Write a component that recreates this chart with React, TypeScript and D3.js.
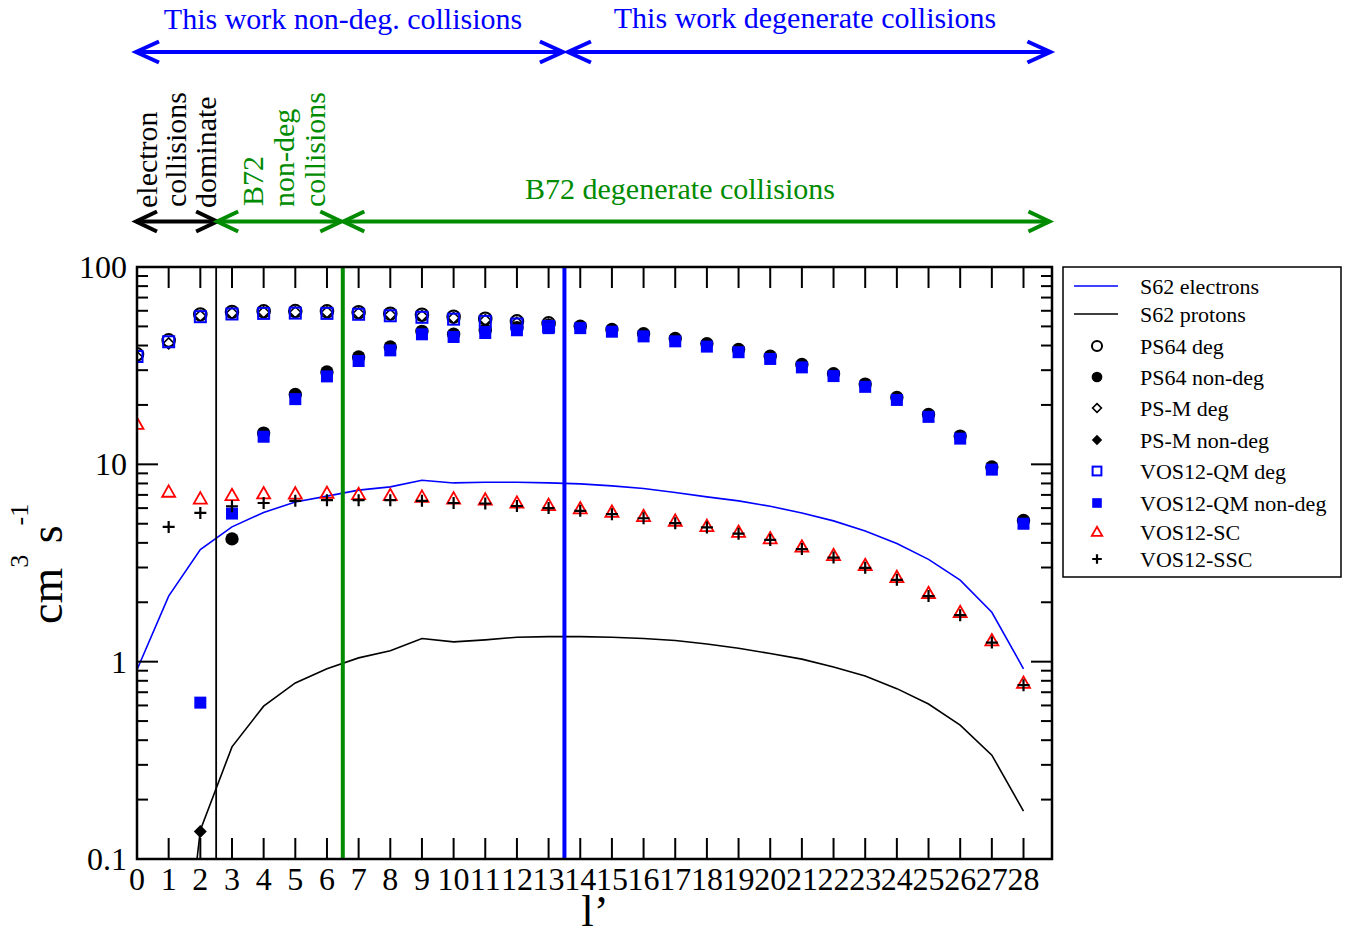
import React from 'react'
import * as d3 from 'd3'

// angular momentum index l'
const lAll = d3.range(0, 29)
const lDeg = d3.range(0, 14)
const lNonDegPS = d3.range(3, 29)
const lNonDegVOS = d3.range(2, 29)
const lSSC = d3.range(1, 29)
const lPSMNonDeg = [2]

// rate coefficients, cm^3 s^-1
const s62Electrons = [0.91, 2.15, 3.7, 4.82, 5.7, 6.45, 6.9, 7.4, 7.69, 8.3, 8.05, 8.12, 8.12, 8.05, 7.96, 7.78, 7.54, 7.2, 6.84, 6.53, 6.13, 5.67, 5.17, 4.6, 3.97, 3.3, 2.59, 1.78, 0.92]
const s62Protons = [0.0008, 0.0055, 0.14, 0.37, 0.595, 0.78, 0.92, 1.045, 1.135, 1.31, 1.26, 1.29, 1.33, 1.34, 1.34, 1.33, 1.31, 1.28, 1.23, 1.17, 1.1, 1.03, 0.94, 0.845, 0.73, 0.61, 0.477, 0.336, 0.175]
const ps64Deg = [36.1, 42.5, 57.5, 59.2, 59.6, 59.8, 59.6, 59.0, 58.0, 57.3, 56.0, 54.7, 53.0, 51.8]
const ps64NonDeg = [4.19, 14.4, 22.6, 29.4, 35.0, 39.3, 47.2, 45.6, 47.8, 49.3, 50.7, 50.1, 48.2, 45.9, 43.4, 40.9, 38.2, 35.3, 32.1, 28.8, 25.5, 21.8, 17.9, 13.9, 9.7, 5.2]
const psmDeg = [35.0, 41.0, 56.5, 58.5, 59.0, 59.0, 59.0, 58.3, 57.3, 56.5, 55.2, 53.8, 52.2, 51.0]
const psmNonDeg = [0.138]
const vosQmDeg = [35.2, 41.8, 56.0, 57.8, 58.2, 58.4, 58.2, 57.6, 56.6, 55.6, 54.4, 53.0, 51.4, 50.0]
const vosQmNonDeg = [0.62, 5.63, 13.8, 21.4, 27.9, 33.4, 37.8, 45.6, 44.2, 46.3, 47.8, 49.0, 49.0, 47.0, 44.5, 42.0, 39.5, 37.0, 34.2, 31.0, 28.0, 24.7, 21.2, 17.4, 13.5, 9.4, 5.0]
const vosSC = [16.0, 7.25, 6.7, 6.97, 7.11, 7.1, 7.15, 7.05, 6.97, 6.84, 6.7, 6.62, 6.38, 6.21, 5.97, 5.74, 5.46, 5.17, 4.86, 4.54, 4.21, 3.82, 3.46, 3.08, 2.68, 2.22, 1.78, 1.28, 0.78]
const vosSSC = [4.82, 5.67, 6.13, 6.37, 6.53, 6.58, 6.58, 6.58, 6.53, 6.37, 6.33, 6.15, 6.0, 5.81, 5.59, 5.33, 5.03, 4.79, 4.45, 4.14, 3.72, 3.37, 2.99, 2.6, 2.15, 1.72, 1.25, 0.76]

// regime boundaries (in l')
const electronLimit = 2.5
const b72NonDegLimit = 6.5
const thisWorkLimit = 13.5

const yTickValues = [0.1, 1, 10, 100]
const yTickLabels = ['0.1', '1', '10', '100']

const BLUE = '#0000ff'
const GREEN = '#008b00'
const RED = '#ff0000'
const FONT = '"Liberation Serif", "Times New Roman", serif'

const margin = { left: 137, right: 1052, top: 267, bottom: 859 }

const Marker = ({ type, cx, cy, s = 1 }) => {
  switch (type) {
    case 'circleOpen':
      return <circle cx={cx} cy={cy} r={6.3 * s} fill="none" stroke="#000" strokeWidth={2} />
    case 'circle':
      return <circle cx={cx} cy={cy} r={6.7 * s} fill="#000" />
    case 'diamondOpen': {
      const r = 5.5 * s
      return <path d={`M${cx},${cy - r}L${cx + r},${cy}L${cx},${cy + r}L${cx - r},${cy}Z`} fill="none" stroke="#000" strokeWidth={1.6} />
    }
    case 'diamond': {
      const r = 6.5 * s
      return <path d={`M${cx},${cy - r}L${cx + r},${cy}L${cx},${cy + r}L${cx - r},${cy}Z`} fill="#000" />
    }
    case 'squareOpen': {
      const h = 5.5 * s
      return <rect x={cx - h} y={cy - h} width={2 * h} height={2 * h} fill="none" stroke={BLUE} strokeWidth={2} />
    }
    case 'square': {
      const h = 6 * s
      return <rect x={cx - h} y={cy - h} width={2 * h} height={2 * h} fill={BLUE} />
    }
    case 'triangle': {
      const h = 6.5 * s
      return <path d={`M${cx},${cy - h}L${cx + h},${cy + h * 0.75}L${cx - h},${cy + h * 0.75}Z`} fill="none" stroke={RED} strokeWidth={1.8} />
    }
    case 'plus': {
      const h = 6 * s
      return <path d={`M${cx - h},${cy}H${cx + h}M${cx},${cy - h}V${cy + h}`} stroke="#000" strokeWidth={2.2} />
    }
    default:
      return null
  }
}

const Arrow = ({ x1, x2, y, color, w = 4, ah = 22, aw = 10.5 }) => (
  <g stroke={color} strokeWidth={w} fill="none" strokeLinecap="butt">
    <line x1={x1} x2={x2} y1={y} y2={y} />
    <path d={`M${x1 + ah},${y - aw}L${x1},${y}L${x1 + ah},${y + aw}`} />
    <path d={`M${x2 - ah},${y - aw}L${x2},${y}L${x2 - ah},${y + aw}`} />
  </g>
)

const RotText = ({ x, y, children, color = '#000', size = 30 }) => (
  <text transform={`translate(${x},${y}) rotate(-90)`} fontSize={size} fill={color} fontFamily={FONT}>
    {children}
  </text>
)

export default function App() {
  const x = d3.scaleLinear().domain([0, 28.9]).range([margin.left, margin.right])
  const y = d3.scaleLog().domain([0.1, 100]).range([margin.bottom, margin.top])

  const line = d3
    .line<number>()
    .x((d, i) => x(lAll[i]))
    .y(d => y(d))

  const minorTicks = []
  ;[0.1, 1, 10].forEach(dec => {
    for (let k = 2; k <= 9; k++) minorTicks.push(dec * k)
  })

  const series = [
    { type: 'circleOpen', xs: lDeg, ys: ps64Deg },
    { type: 'circle', xs: lNonDegPS, ys: ps64NonDeg },
    { type: 'diamondOpen', xs: lDeg, ys: psmDeg },
    { type: 'diamond', xs: lPSMNonDeg, ys: psmNonDeg },
    { type: 'squareOpen', xs: lDeg, ys: vosQmDeg },
    { type: 'square', xs: lNonDegVOS, ys: vosQmNonDeg },
    { type: 'triangle', xs: lAll, ys: vosSC },
    { type: 'plus', xs: lSSC, ys: vosSSC },
  ]

  const legendRows = [
    { label: 'S62 electrons', line: BLUE, y: 286 },
    { label: 'S62 protons', line: '#000', y: 314 },
    { label: 'PS64 deg', type: 'circleOpen', y: 346 },
    { label: 'PS64 non-deg', type: 'circle', y: 377 },
    { label: 'PS-M deg', type: 'diamondOpen', y: 408 },
    { label: 'PS-M non-deg', type: 'diamond', y: 440 },
    { label: 'VOS12-QM deg', type: 'squareOpen', y: 471 },
    { label: 'VOS12-QM non-deg', type: 'square', y: 503 },
    { label: 'VOS12-SC', type: 'triangle', y: 532 },
    { label: 'VOS12-SSC', type: 'plus', y: 559 },
  ]

  const W = margin.right - margin.left
  const H = margin.bottom - margin.top

  return (
    <svg width={1347} height={935} style={{ position: 'absolute', left: 0, top: 0, background: '#fff' }} fontFamily={FONT}>
      <defs>
        <clipPath id="plot-clip">
          <rect x={margin.left} y={margin.top} width={W} height={H} />
        </clipPath>
      </defs>

      {/* top annotations */}
      <text x={343} y={29} fontSize={30} fill={BLUE} textAnchor="middle">This work non-deg. collisions</text>
      <text x={805} y={28} fontSize={30} fill={BLUE} textAnchor="middle">This work degenerate collisions</text>
      <Arrow x1={x(0) - 1} x2={x(thisWorkLimit) - 1.5} y={52} color={BLUE} ah={23} />
      <Arrow x1={x(thisWorkLimit) + 3.5} x2={x(28.85)} y={52} color={BLUE} ah={23} />

      <RotText x={157} y={208}>electron</RotText>
      <RotText x={186} y={207}>collisions</RotText>
      <RotText x={216} y={208}>dominate</RotText>
      <RotText x={263} y={206} color={GREEN}>B72</RotText>
      <RotText x={294} y={207} color={GREEN}>non-deg</RotText>
      <RotText x={325} y={207} color={GREEN}>collisions</RotText>
      <text x={680} y={199} fontSize={30} fill={GREEN} textAnchor="middle">B72 degenerate collisions</text>

      <Arrow x1={x(0) - 1} x2={x(electronLimit) + 1} y={221.5} color="#000" ah={21} aw={10} />
      <Arrow x1={x(electronLimit) + 1} x2={x(b72NonDegLimit) - 1.5} y={221.5} color={GREEN} ah={21} aw={10} />
      <Arrow x1={x(b72NonDegLimit) + 0.5} x2={x(28.82)} y={221.5} color={GREEN} ah={21} aw={10} />

      {/* curves */}
      <g clipPath="url(#plot-clip)">
        <path d={line(s62Electrons)} fill="none" stroke={BLUE} strokeWidth={1.6} />
        <path d={line(s62Protons)} fill="none" stroke="#000" strokeWidth={1.6} />
        <line x1={x(electronLimit)} x2={x(electronLimit)} y1={margin.top} y2={margin.bottom} stroke="#000" strokeWidth={1.8} />
        <line x1={x(b72NonDegLimit)} x2={x(b72NonDegLimit)} y1={margin.top} y2={margin.bottom} stroke={GREEN} strokeWidth={4} />
        <line x1={x(thisWorkLimit)} x2={x(thisWorkLimit)} y1={margin.top} y2={margin.bottom} stroke={BLUE} strokeWidth={4} />
        {series.map(s => (
          <g key={s.type}>
            {s.ys.map((v, i) => (
              <Marker key={i} type={s.type} cx={x(s.xs[i])} cy={y(v)} />
            ))}
          </g>
        ))}
      </g>

      {/* axes frame and ticks */}
      <g stroke="#000" strokeWidth={2}>
        {lAll.map(t => (
          <g key={t}>
            <line x1={x(t)} x2={x(t)} y1={margin.bottom} y2={margin.bottom - 21} />
            <line x1={x(t)} x2={x(t)} y1={margin.top} y2={margin.top + 21} />
          </g>
        ))}
        {yTickValues.map(t => (
          <g key={t}>
            <line x1={margin.left} x2={margin.left + 21} y1={y(t)} y2={y(t)} />
            <line x1={margin.right} x2={margin.right - 21} y1={y(t)} y2={y(t)} />
          </g>
        ))}
        {minorTicks.map(t => (
          <g key={t}>
            <line x1={margin.left} x2={margin.left + 11} y1={y(t)} y2={y(t)} />
            <line x1={margin.right} x2={margin.right - 11} y1={y(t)} y2={y(t)} />
          </g>
        ))}
        <rect x={margin.left} y={margin.top} width={W} height={H} fill="none" strokeWidth={2.5} />
      </g>

      {lAll.map(t => (
        <text key={t} x={x(t)} y={890} fontSize={32} textAnchor="middle">{t}</text>
      ))}
      {yTickValues.map((t, i) => (
        <text key={t} x={127} y={y(t) + 11} fontSize={32} textAnchor="end">{yTickLabels[i]}</text>
      ))}

      {/* axis titles */}
      <text x={595} y={926} fontSize={45} textAnchor="middle">l’</text>
      <text transform="translate(62,624) rotate(-90)" fontSize={46}>
        cm
        <tspan dy={-34} fontSize={26}>3</tspan>
        <tspan dy={34} fontSize={46}>{'\u00a0s'}</tspan>
        <tspan dy={-34} fontSize={26}>-1</tspan>
      </text>

      {/* legend */}
      <rect x={1063} y={267} width={278} height={310} fill="#fff" stroke="#000" strokeWidth={1.5} />
      {legendRows.map(r => (
        <g key={r.label}>
          {r.line ? (
            <line x1={1074} x2={1118} y1={r.y} y2={r.y} stroke={r.line} strokeWidth={1.6} />
          ) : (
            <Marker type={r.type} cx={1097} cy={r.y} s={0.8} />
          )}
          <text x={1140} y={r.y + 8} fontSize={22}>{r.label}</text>
        </g>
      ))}
    </svg>
  )
}
